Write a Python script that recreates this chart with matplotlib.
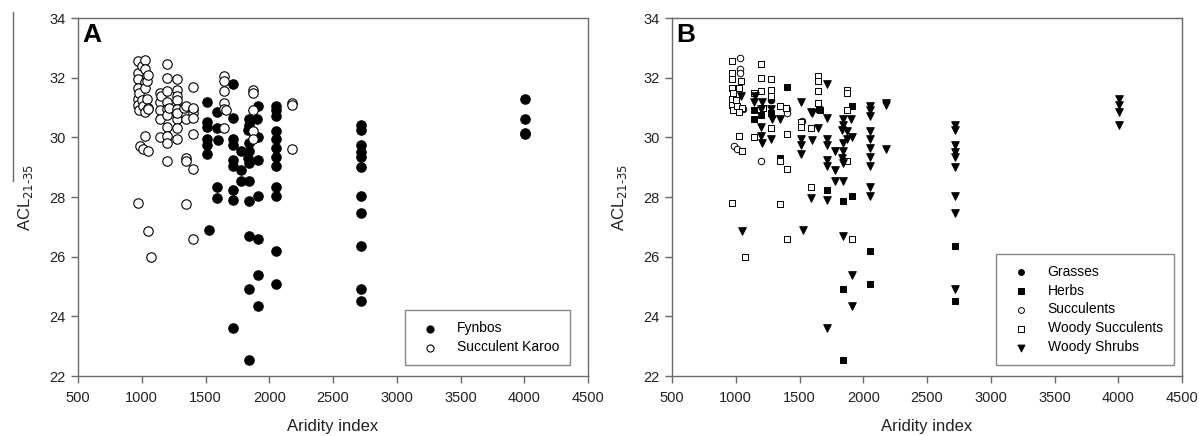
import matplotlib
matplotlib.use("Agg")
import matplotlib.pyplot as plt
from matplotlib.lines import Line2D

plt.rcParams['font.family'] = ['Liberation Sans', 'DejaVu Sans']

# ---- panel A: biome ----
fynbos_x = [1515, 1515, 1515, 1515, 1515, 1515, 1525,
            1590, 1590, 1590, 1590, 1600,
            1715, 1715, 1715, 1715, 1715, 1715, 1715, 1715, 1715,
            1780, 1780, 1780,
            1840, 1845, 1835, 1840, 1845, 1835, 1845, 1840, 1840, 1840, 1840, 1840,
            1910, 1905, 1910, 1910, 1910, 1910, 1910, 1910,
            2055, 2055, 2055, 2055, 2055, 2055, 2055, 2055, 2055, 2055, 2055, 2055,
            2720, 2720, 2720, 2720, 2720, 2720, 2720, 2720, 2720, 2720, 2720,
            4005, 4005, 4005, 4005]
fynbos_y = [31.2, 30.5, 30.35, 29.95, 29.75, 29.45, 26.9,
            30.85, 30.3, 28.35, 27.95, 29.9,
            31.8, 30.65, 29.95, 29.75, 29.25, 29.05, 28.25, 27.9, 23.6,
            29.55, 28.9, 28.55,
            30.6, 30.4, 30.25, 29.8, 29.55, 29.3, 29.15, 28.55, 27.85, 26.7, 24.9, 22.55,
            31.05, 30.6, 30.0, 29.25, 28.05, 26.6, 25.4, 24.35,
            31.05, 30.9, 30.7, 30.2, 29.95, 29.65, 29.35, 29.05, 28.35, 28.05, 26.2, 25.1,
            30.4, 30.25, 29.75, 29.5, 29.35, 29.0, 28.05, 27.45, 26.35, 24.9, 24.5,
            31.3, 30.6, 30.15, 30.1]

karoo_x = [970, 970, 970, 970, 970, 970, 970, 980, 980, 985, 1000, 1000, 1010, 1010,
           1025, 1025, 1025, 1025, 1025, 1025, 1040, 1040,
           1050, 1050, 1050, 1050, 1050, 1070,
           1140, 1140, 1140, 1140, 1140, 1150,
           1200, 1200, 1200, 1200, 1200, 1200, 1200, 1200, 1200, 1200, 1210,
           1280, 1280, 1280, 1280, 1280, 1280, 1280, 1280, 1280,
           1330, 1345, 1345, 1345, 1350, 1350,
           1400, 1400, 1400, 1400, 1400, 1400, 1400, 1400,
           1645, 1645, 1645, 1645, 1645, 1645, 1660,
           1875, 1875, 1875, 1875, 1875,
           2175, 2175, 2175]
karoo_y = [32.55, 32.15, 31.95, 31.65, 31.3, 31.1, 27.8, 30.9, 31.5, 29.7, 31.25, 32.4, 29.6, 31.05,
           32.6, 32.3, 31.85, 31.65, 30.85, 30.05, 31.9, 31.3,
           32.1, 31.0, 30.95, 29.55, 26.85, 26.0,
           31.5, 31.2, 30.9, 30.6, 30.0, 31.4,
           32.45, 32.0, 31.55, 31.2, 30.95, 30.75, 30.35, 30.05, 29.8, 29.2, 31.0,
           31.95, 31.6, 31.4, 31.25, 30.95, 30.6, 30.3, 29.95, 30.8,
           31.0, 31.05, 29.3, 27.75, 30.6, 29.2,
           31.7, 30.95, 30.8, 30.65, 30.1, 28.95, 26.6, 31.0,
           32.05, 31.9, 31.55, 31.15, 30.95, 30.3, 30.9,
           31.6, 31.5, 30.9, 30.2, 29.95,
           31.15, 31.1, 29.6]

# ---- panel B: growth form ----
grass_x = [1280]
grass_y = [31.25]

herb_x = [1145, 1140, 1200, 1275, 1345, 1400, 1650, 1660, 1715, 1840, 1840, 1840,
          1910, 1910, 2055, 2055, 2720, 2720]
herb_y = [30.9, 30.6, 30.75, 30.8, 29.3, 31.7, 30.95, 30.9, 28.25, 27.85, 24.9, 22.55,
          31.05, 28.05, 26.2, 25.1, 26.35, 24.5]

succ_x = [1030, 1030, 1030, 1055, 985, 1010, 1200, 1400, 1400, 1520]
succ_y = [32.65, 32.3, 32.15, 30.95, 29.7, 29.6, 29.2, 30.95, 30.8, 30.55]

wsucc_x = [970, 970, 970, 970, 970, 970, 970, 980, 980, 1000, 1010, 1040, 1050, 1050,
           1025, 1025, 1025, 1070,
           1140, 1140, 1200, 1200, 1200, 1210,
           1280, 1280, 1280, 1280, 1345, 1345, 1350,
           1395, 1400, 1400, 1400,
           1515, 1515, 1590, 1590,
           1645, 1645, 1645, 1645,
           1875, 1875, 1875, 1875, 1910]
wsucc_y = [32.55, 32.15, 31.95, 31.65, 31.3, 31.1, 27.8, 30.9, 31.5, 31.25, 31.05, 31.9, 31.0, 29.55,
           31.65, 30.85, 30.05, 26.0,
           31.5, 30.0, 32.45, 32.0, 31.55, 31.0,
           31.95, 31.6, 31.4, 30.3, 31.05, 27.75, 29.2,
           31.0, 30.1, 28.95, 26.6,
           30.5, 30.35, 30.3, 28.35,
           32.05, 31.9, 31.55, 31.15,
           31.6, 31.5, 30.9, 29.2, 26.6]

wshrub_x = [1040, 1050, 1140, 1150, 1205, 1200, 1200, 1200, 1205,
            1280, 1285, 1280, 1350,
            1515, 1515, 1515, 1515, 1525,
            1590, 1600, 1600, 1590, 1645,
            1715, 1715, 1715, 1715, 1715, 1715, 1715, 1715,
            1780, 1780, 1780,
            1840, 1845, 1835, 1840, 1845, 1835, 1845, 1840, 1840,
            1875, 1875, 1905, 1910, 1910, 1910,
            2055, 2055, 2055, 2055, 2055, 2055, 2055, 2055, 2055, 2055,
            2175, 2175, 2175,
            2720, 2720, 2720, 2720, 2720, 2720, 2720, 2720, 2720,
            4005, 4005, 4005, 4005]
wshrub_y = [31.4, 26.85, 31.2, 31.4, 31.2, 30.95, 30.35, 30.05, 29.8,
            30.95, 30.6, 29.95, 30.6,
            31.2, 29.95, 29.75, 29.45, 26.9,
            30.85, 29.9, 30.8, 27.95, 30.3,
            31.8, 30.65, 29.95, 29.75, 29.25, 29.05, 27.9, 23.6,
            29.55, 28.9, 28.55,
            30.6, 30.4, 30.25, 29.8, 29.55, 29.3, 29.15, 28.55, 26.7,
            30.2, 29.95, 30.6, 30.0, 25.4, 24.35,
            31.05, 30.9, 30.7, 30.2, 29.95, 29.65, 29.35, 29.05, 28.35, 28.05,
            31.15, 31.1, 29.6,
            30.4, 30.25, 29.75, 29.5, 29.35, 29.0, 28.05, 27.45, 24.9,
            31.3, 31.1, 30.85, 30.4]

x_ticks = [500, 1000, 1500, 2000, 2500, 3000, 3500, 4000, 4500]
y_ticks = [22, 24, 26, 28, 30, 32, 34]

W, H = 1199, 436
fig = plt.figure(figsize=(W / 100, H / 100), dpi=100)
axA = fig.add_axes([78 / W, 1 - 376 / H, 510 / W, 358 / H])
axB = fig.add_axes([672 / W, 1 - 376 / H, 510 / W, 358 / H])

grey = '#6a6a6a'


def style_axes(ax, letter):
    ax.set_xlim(500, 4500)
    ax.set_ylim(22, 34)
    ax.set_xticks(x_ticks)
    ax.set_yticks(y_ticks)
    for s in ax.spines.values():
        s.set_color(grey)
        s.set_linewidth(1.0)
    ax.tick_params(direction='out', length=5, width=1, color=grey,
                   labelsize=10.5, labelcolor='#222222', pad=4)
    ax.tick_params(axis='x', pad=6)
    ax.set_xlabel('Aridity index', fontsize=12, color='#222222', labelpad=10)
    ax.set_ylabel('ACL$_{21\\text{-}35}$', fontsize=12, color='#222222', labelpad=10)
    ax.text(0.008, 0.985, letter, transform=ax.transAxes, ha='left', va='top',
            fontsize=19, fontweight='bold')


# panel A
axA.scatter(fynbos_x, fynbos_y, s=46, marker='o', facecolor='black',
            edgecolor='black', linewidths=0.8, label='Fynbos', zorder=3)
axA.scatter(karoo_x, karoo_y, s=46, marker='o', facecolor='white',
            edgecolor='black', linewidths=0.8, label='Succulent Karoo', zorder=3)
style_axes(axA, 'A')
legA = axA.legend(loc='lower right', bbox_to_anchor=(0.965, 0.03), borderaxespad=0,
                  fancybox=False, edgecolor=grey, fontsize=10, borderpad=0.8,
                  labelspacing=0.35, handlelength=2.0, handletextpad=0.9,
                  markerscale=0.75)
legA.get_frame().set_linewidth(1.0)

# panel B
axB.scatter(grass_x, grass_y, s=22, marker='o', facecolor='black',
            edgecolor='black', linewidths=0.7, label='Grasses', zorder=3)
axB.scatter(herb_x, herb_y, s=20, marker='s', facecolor='black',
            edgecolor='black', linewidths=0.7, label='Herbs', zorder=3)
axB.scatter(succ_x, succ_y, s=22, marker='o', facecolor='white',
            edgecolor='black', linewidths=0.7, label='Succulents', zorder=3)
axB.scatter(wsucc_x, wsucc_y, s=20, marker='s', facecolor='white',
            edgecolor='black', linewidths=0.7, label='Woody Succulents', zorder=3)
axB.scatter(wshrub_x, wshrub_y, s=30, marker='v', facecolor='black',
            edgecolor='black', linewidths=0.7, label='Woody Shrubs', zorder=3)
style_axes(axB, 'B')
legB = axB.legend(loc='lower right', bbox_to_anchor=(0.984, 0.03), borderaxespad=0,
                  fancybox=False, edgecolor=grey, fontsize=10, borderpad=0.8,
                  labelspacing=0.35, handlelength=2.0, handletextpad=0.9,
                  markerscale=0.9)
legB.get_frame().set_linewidth(1.0)

# stray rule left of panel A's y label in the source image
fig.add_artist(Line2D([13 / W, 13 / W], [1 - 12 / H, 1 - 181 / H], color=grey, linewidth=1))

fig.savefig('out.png', dpi=100)
